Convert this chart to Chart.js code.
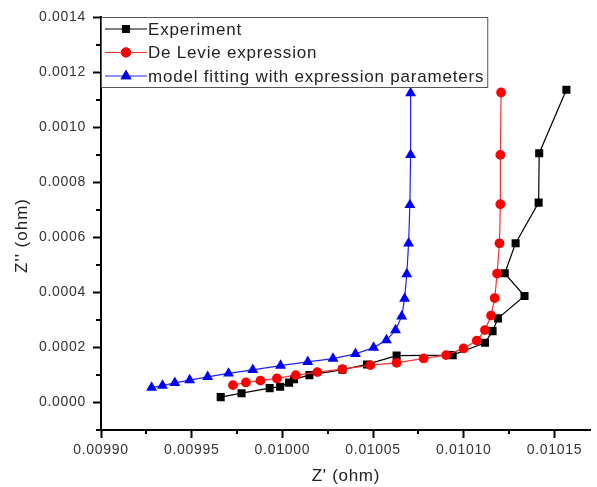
<!DOCTYPE html>
<html lang="en">
<head>
<meta charset="UTF-8">
<title>Z' vs Z''</title>
<script src="https://cdn.jsdelivr.net/npm/chart.js"></script>
<style>
  body { margin: 0; background: #fff; }
  .chart-box { width: 597px; height: 487px; }
</style>
</head>
<body>
<div class="chart-box"><canvas id="nyquistChart" width="597" height="487"></canvas></div>
<script>
// Experiment (black squares)
const expX = [0.009966, 0.0099775, 0.009993, 0.0099988, 0.0100037, 0.0100064, 0.0100149, 0.0100331, 0.0100467,
  0.010063, 0.0100939, 0.0101117, 0.0101159, 0.0101189, 0.0101335, 0.0101226, 0.0101286, 0.0101413, 0.0101416, 0.0101566];
const expY = [0.0000193, 0.0000338, 0.000052, 0.0000574, 0.000072, 0.0000847, 0.0000993, 0.0001193, 0.0001382,
  0.0001702, 0.000172, 0.0002167, 0.0002592, 0.0003054, 0.0003865, 0.000469, 0.0005781, 0.0007258, 0.0009054, 0.0011356];

// De Levie expression (red circles)
const levieX = [0.0099728, 0.0099799, 0.0099879, 0.009997, 0.0100074, 0.0100193, 0.0100331, 0.0100485, 0.010063, 0.0100779,
  0.0100903, 0.0100999, 0.0101072, 0.0101117, 0.0101151, 0.0101171, 0.0101184, 0.0101197, 0.0101202, 0.0101202, 0.0101206];
const levieY = [0.0000629, 0.0000727, 0.0000793, 0.0000873, 0.0000993, 0.0001102, 0.0001211, 0.0001356, 0.000144, 0.00016,
  0.000172, 0.0001963, 0.0002247, 0.0002629, 0.0003156, 0.0003792, 0.0004683, 0.0005781, 0.00072, 0.0008992, 0.0011257];

// model fitting with expression parameters (blue triangles)
const fitX = [0.0099279, 0.0099339, 0.0099407, 0.0099489, 0.0099588, 0.0099703, 0.0099837, 0.009999, 0.010014, 0.0100279,
  0.0100403, 0.0100503, 0.0100574, 0.0100624, 0.0100658, 0.0100674, 0.0100686, 0.0100696, 0.0100703, 0.0100707, 0.0100707];
const fitY = [0.0000538, 0.0000611, 0.0000713, 0.0000811, 0.0000931, 0.0001054, 0.0001185, 0.0001338, 0.0001476, 0.0001593,
  0.0001767, 0.0001993, 0.0002265, 0.0002629, 0.0003127, 0.0003774, 0.0004665, 0.0005781, 0.0007174, 0.0008992, 0.0011235];

const xTicks = [0.0099, 0.00995, 0.01, 0.01005, 0.0101, 0.01015];
const yTicks = [0, 0.0002, 0.0004, 0.0006, 0.0008, 0.001, 0.0012, 0.0014];

const FONT = "'Liberation Sans', Arial, sans-serif";
const Y_TITLE = "Z'' (ohm)";

function toPoints(xs, ys) {
  return xs.map((x, i) => ({ x: x, y: ys[i] }));
}

// minor ticks halfway between the major ones
function minorTicks(major, min, max) {
  const half = (major[1] - major[0]) / 2;
  const out = [];
  major.forEach(m => {
    [m - half, m + half].forEach(v => {
      if (v >= min - 1e-12 && v <= max + 1e-12 && !out.some(o => Math.abs(o - v) < 1e-12)) out.push(v);
    });
  });
  return out;
}

const extrasPlugin = {
  id: 'extras',
  beforeUpdate(chart) {
    // Origin-like text is a little wider spaced
    chart.ctx.letterSpacing = '0.7px';
  },
  afterDraw(chart) {
    const ctx = chart.ctx;
    const xs = chart.scales.x, ys = chart.scales.y;
    const area = chart.chartArea;

    // minor tick marks
    ctx.save();
    ctx.strokeStyle = '#000';
    ctx.lineWidth = 2;
    ctx.beginPath();
    minorTicks(xTicks, xs.min, xs.max).forEach(v => {
      const p = Math.round(xs.getPixelForValue(v));
      ctx.moveTo(p, area.bottom);
      ctx.lineTo(p, area.bottom + 4);
    });
    minorTicks(yTicks, ys.min, ys.max).forEach(v => {
      const p = Math.round(ys.getPixelForValue(v));
      ctx.moveTo(area.left, p);
      ctx.lineTo(area.left - 5, p);
    });
    ctx.stroke();
    ctx.restore();

    // y axis title, sitting a bit below the middle as in the original
    ctx.save();
    ctx.font = '17px ' + FONT;
    ctx.letterSpacing = '1px';
    ctx.fillStyle = '#222';
    ctx.textAlign = 'center';
    ctx.textBaseline = 'middle';
    ctx.translate(area.left - 79, (area.top + area.bottom) / 2 + 12);
    ctx.rotate(-Math.PI / 2);
    ctx.fillText(Y_TITLE, 0, 0);
    ctx.restore();

    // legend box in the top left corner
    ctx.save();
    ctx.font = '17px ' + FONT;
    ctx.letterSpacing = '0.8px';
    const left = area.left, top = area.top;
    const rowH = 23.5;
    const textX = left + 47;
    let maxW = 0;
    chart.data.datasets.forEach(ds => { maxW = Math.max(maxW, ctx.measureText(ds.label).width); });
    const boxW = textX - left + maxW + 3;
    const boxH = 70;
    ctx.fillStyle = '#fff';
    ctx.fillRect(left, top, boxW, boxH);
    ctx.strokeStyle = '#555';
    ctx.lineWidth = 1;
    ctx.strokeRect(left + 0.5, top + 0.5, boxW, boxH);

    chart.data.datasets.forEach((ds, i) => {
      const y = top + 12 + i * rowH;
      ctx.strokeStyle = ds.borderColor;
      ctx.lineWidth = 1;
      ctx.beginPath();
      ctx.moveTo(left + 4, y);
      ctx.lineTo(textX - 1, y);
      ctx.stroke();
      Chart.helpers.drawPoint(ctx, {
        pointStyle: ds.pointStyle, radius: ds.pointRadius, borderWidth: 0, rotation: 0
      }, left + 25, y);
      ctx.fillStyle = ds.pointBackgroundColor;
      ctx.fill();
      ctx.fillStyle = '#222';
      ctx.textBaseline = 'middle';
      ctx.fillText(ds.label, textX, y + 1);
    });
    ctx.restore();
  }
};

function series(label, xs, ys, color, lineColor, style, radius, order) {
  return {
    label: label,
    data: toPoints(xs, ys),
    showLine: true,
    borderColor: lineColor,
    borderWidth: 1.2,
    backgroundColor: color,
    pointBackgroundColor: color,
    pointBorderColor: color,
    pointBorderWidth: 0,
    pointStyle: style,
    pointRadius: radius,
    pointHoverRadius: radius,
    tension: 0,
    order: order
  };
}

new Chart(document.getElementById('nyquistChart'), {
  type: 'scatter',
  data: {
    datasets: [
      series('Experiment', expX, expY, '#000000', '#000000', 'rect', 5.7, 2),
      series('De Levie expression', levieX, levieY, '#ff0000', '#ff3030', 'circle', 4.9, 1),
      series('model fitting with expression parameters', fitX, fitY, '#0000ff', '#2020ff', 'triangle', 6.3, 0)
    ]
  },
  options: {
    responsive: false,
    animation: false,
    events: [],
    layout: { padding: { top: 17, right: 0, bottom: 0, left: 0 } },
    plugins: { legend: { display: false }, tooltip: { enabled: false } },
    scales: {
      x: {
        type: 'linear',
        min: 0.0099,
        max: 0.01017,
        afterBuildTicks: s => { s.ticks = xTicks.map(v => ({ value: v })); },
        afterFit: s => { s.height = 57; },
        border: { color: '#000', width: 2 },
        grid: { drawOnChartArea: false, tickLength: 8, tickWidth: 2, tickColor: '#000' },
        ticks: {
          padding: 4,
          color: '#333',
          font: { family: FONT, size: 14 },
          maxRotation: 0,
          callback: v => v.toFixed(5)
        },
        title: {
          display: true,
          text: "Z' (ohm)",
          color: '#222',
          font: { family: FONT, size: 17 },
          padding: { top: 0, bottom: 0 }
        }
      },
      y: {
        type: 'linear',
        min: -0.0001,
        max: 0.0014,
        afterBuildTicks: s => { s.ticks = yTicks.map(v => ({ value: v })); },
        afterFit: s => { s.width = 101; },
        border: { color: '#000', width: 2 },
        grid: { drawOnChartArea: false, tickLength: 8, tickWidth: 2, tickColor: '#000' },
        ticks: {
          padding: 7,
          color: '#333',
          font: { family: FONT, size: 14 },
          callback: v => v.toFixed(4)
        },
        title: { display: false }
      }
    }
  },
  plugins: [extrasPlugin]
});
</script>
</body>
</html>
